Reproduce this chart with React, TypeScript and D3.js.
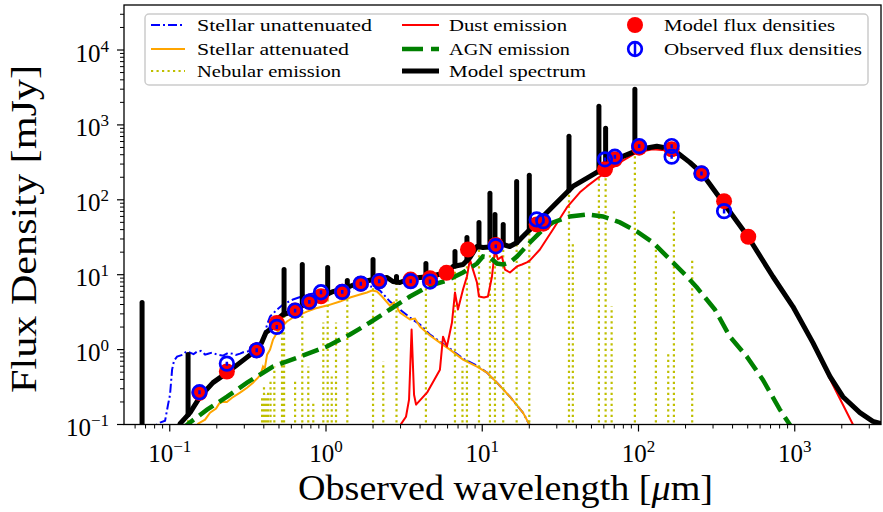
import React from 'react';
import * as d3 from 'd3';

type Pt = [number, number];

// Wavelength [µm], flux density [mJy]
const stellarUnattenuated: Pt[] = [
  [0.07, 0.08], [0.0867, 0.106], [0.0933, 0.112], [0.0975, 0.184], [0.1004, 0.25],
  [0.1035, 0.54], [0.1065, 0.713], [0.1114, 0.806], [0.1217, 0.857], [0.128, 0.95],
  [0.1349, 0.912], [0.142, 0.87], [0.1496, 0.94], [0.158, 0.96], [0.1683, 0.857],
  [0.176, 0.88], [0.1866, 0.912], [0.2, 0.86], [0.2193, 0.831], [0.235, 0.9],
  [0.2505, 0.884], [0.265, 0.85], [0.2818, 0.884], [0.295, 0.92], [0.3124, 0.94],
  [0.3412, 1.0], [0.3672, 1.06], [0.3954, 1.32], [0.4197, 2.16], [0.4385, 2.76],
  [0.4861, 3.43], [0.5307, 4.0], [0.6152, 4.66], [0.7555, 5.44], [1.015, 5.96],
  [1.425, 6.54], [1.969, 6.96], [2.215, 6.15], [2.566, 4.38], [2.974, 3.43],
  [3.446, 2.68], [3.993, 2.16], [4.627, 1.59], [5.362, 1.28], [6.213, 1.03],
  [7.529, 0.758], [9.25, 0.611], [10.72, 0.493], [12.42, 0.362], [15.04, 0.235],
  [18.21, 0.144], [19.9, 0.1025], [21.7, 0.08],
];

const stellarAttenuated: Pt[] = [
  [0.1452, 0.0852], [0.1518, 0.1025], [0.1683, 0.116], [0.1811, 0.144], [0.1979, 0.163],
  [0.207, 0.19], [0.2193, 0.202], [0.232, 0.2], [0.2505, 0.228], [0.2818, 0.266],
  [0.3124, 0.31], [0.3412, 0.362], [0.3672, 0.422], [0.38, 0.46], [0.3954, 0.593],
  [0.405, 0.55], [0.4197, 0.857], [0.4385, 1.0], [0.458, 1.36], [0.4861, 1.69],
  [0.523, 2.03], [0.5627, 2.37], [0.6152, 2.68], [0.6823, 2.94], [0.7555, 3.22],
  [0.8505, 3.53], [1.015, 3.87], [1.229, 4.38], [1.425, 4.96], [1.651, 5.44],
  [1.828, 5.78], [1.969, 6.15], [2.12, 5.96], [2.283, 5.11], [2.566, 3.87],
  [2.723, 4.25], [2.974, 3.12], [3.446, 2.52], [3.71, 2.6], [3.993, 2.03],
  [4.627, 1.54], [5.362, 1.24], [6.213, 1.0], [7.529, 0.735], [9.25, 0.593],
  [10.72, 0.493], [12.42, 0.362], [15.04, 0.235], [18.21, 0.144], [19.9, 0.1025],
  [21.7, 0.08],
];

const dustEmission: Pt[] = [
  [2.89, 0.073], [3.019, 0.101], [3.25, 0.127], [3.4, 0.215], [3.53, 1.85],
  [3.66, 0.25], [3.77, 0.184], [4.43, 0.266], [5.36, 0.54], [5.61, 1.49],
  [5.94, 1.1], [6.4, 2.3], [6.69, 5.78], [6.99, 3.43], [7.53, 6.34],
  [7.98, 9.46], [8.34, 16.0], [8.72, 11.7], [9.25, 7.87], [9.53, 5.11],
  [10.26, 4.96], [10.87, 5.11], [11.54, 9.46], [12.06, 21.7], [12.6, 16.0],
  [13.37, 17.5], [13.97, 11.7], [15.04, 10.7], [16.67, 12.9], [17.95, 13.7],
  [19.31, 14.6], [20.19, 15.5], [23.39, 21.7], [28.33, 40.2], [34.82, 79.1],
  [42.17, 126], [46.74, 151], [56.64, 205], [76.0, 316], [97.6, 430],
  [123.7, 472], [154.2, 457], [198.2, 347], [247.2, 240], [351.9, 84.2],
  [501.4, 31.4], [723.8, 9.46], [972.3, 3.64], [1305, 1.2], [1753, 0.34],
  [2353, 0.101], [2459, 0.08],
];

const agnEmission: Pt[] = [
  [0.1164, 0.0851], [0.129, 0.0993], [0.1733, 0.158], [0.2326, 0.235], [0.3124, 0.362],
  [0.458, 0.593], [0.682, 0.806], [1.015, 1.1], [1.425, 1.59], [1.91, 2.3],
  [2.566, 3.43], [3.446, 5.11], [4.627, 7.17], [5.94, 8.36], [7.53, 10.7],
  [9.25, 14.1], [10.1, 17.5], [11.2, 17.0], [12.42, 14.1], [13.6, 13.7],
  [15.04, 14.6], [16.67, 17.5], [20.19, 26.9], [24.45, 40.2], [28.33, 49.9],
  [36.4, 60.0], [46.74, 63.8], [59.2, 60.0], [76.0, 49.9], [97.6, 37.8],
  [123.7, 26.9], [158.8, 16.0], [204, 9.46], [236.6, 6.74], [308.2, 3.43],
  [384.6, 1.49], [493.6, 0.806], [624.6, 0.397], [803.2, 0.158], [930.5, 0.0993],
  [1016, 0.0753],
];

// Model spectrum continuum; emission lines are added on top from nebularLines
const modelContinuum: Pt[] = [
  [0.108, 0.0626], [0.1164, 0.1025], [0.1349, 0.144], [0.1563, 0.235], [0.189, 0.362],
  [0.233, 0.493], [0.282, 0.67], [0.341, 0.912], [0.3672, 1.0], [0.39, 1.28],
  [0.413, 1.69], [0.438, 1.85], [0.486, 2.52], [0.531, 2.94], [0.589, 3.12],
  [0.652, 3.43], [0.756, 4.25], [0.916, 4.96], [1.11, 5.96], [1.36, 6.74],
  [1.65, 7.87], [2.0, 8.63], [2.46, 9.18], [2.68, 8.11], [2.97, 7.87],
  [3.45, 8.9], [4.63, 9.46], [5.94, 10.7], [6.5, 12.9], [7.53, 13.7],
  [8.35, 17.0], [9.25, 23.8], [10.1, 23.1], [12.4, 23.8], [13.6, 25.3],
  [15.0, 23.8], [16.7, 26.9], [18.2, 32.4], [20.2, 40.2], [22.4, 49.9],
  [28.3, 81.6], [38.0, 151], [48.9, 205], [62.8, 280], [79.5, 380],
  [102, 472], [131, 518], [166, 472], [213, 316], [255, 225],
  [352, 89.5], [501, 32.4], [724, 9.46], [973, 3.76], [1306, 1.24],
  [1679, 0.44], [2032, 0.235], [2612, 0.144], [3162, 0.11], [3664, 0.101],
];

// Nebular emission lines: [observed wavelength, peak flux]
const nebularLines: Pt[] = [
  [0.0665, 4.25], [0.131, 0.857], [0.39, 0.228], [0.401, 0.34], [0.413, 0.25],
  [0.426, 0.292], [0.4415, 0.397], [0.467, 0.593], [0.523, 1.85], [0.539, 11.7],
  [0.634, 0.397], [0.705, 13.7], [0.77, 0.593], [0.829, 0.196], [0.961, 2.3],
  [1.025, 12.5], [1.088, 0.436], [1.159, 2.3], [1.369, 8.4], [2.0, 16.0],
  [2.326, 0.691], [2.826, 9.46], [4.36, 14.1], [6.69, 20.4], [7.47, 0.593],
  [7.98, 31.4], [9.53, 49.9], [11.2, 122], [12.06, 63.8], [13.62, 46.9],
  [16.6, 176], [20.0, 212], [35.9, 704], [38.0, 26.9], [55.8, 1774],
  [61.6, 901], [67.3, 3.76], [94.8, 2993], [129.2, 21.7], [155, 0.94],
  [168.5, 74.4], [220.6, 16.0],
];

const modelWave = [0.155, 0.232, 0.36, 0.484, 0.634, 0.782, 0.929, 1.27, 1.67, 2.19, 3.48, 4.63, 5.9, 8.1, 12.2, 22.3, 24.6, 61, 70.6, 101, 163, 253, 353, 504];
const modelFlux = [0.264, 0.51, 0.98, 2.27, 3.32, 4.34, 5.16, 5.9, 7.6, 8.2, 8.6, 9.0, 10.6, 21.7, 25, 46.9, 48, 255, 347, 497, 472, 225, 96, 32.1];

const obsWave = [0.155, 0.232, 0.36, 0.484, 0.634, 0.782, 0.929, 1.27, 1.67, 2.19, 3.48, 4.63, 12.2, 22.3, 24.6, 61, 70.6, 101, 163, 163, 253, 353];
const obsFlux = [0.27, 0.65, 0.98, 2.01, 3.32, 4.34, 5.83, 5.9, 7.6, 8.2, 8.2, 8.1, 24, 54.7, 51.9, 347, 377, 522, 522, 377, 225, 70.6];
const obsErr = [0.016, 0.04, 0.06, 0.12, 0.2, 0.26, 0.35, 0.35, 0.46, 0.5, 0.5, 0.5, 1.4, 3.3, 3.1, 21, 23, 31, 31, 23, 14, 5];

const xTickValues = [0.1, 1, 10, 100, 1000];
const xTickExponents = ['\u22121', '0', '1', '2', '3'];
const yTickValues = [0.1, 1, 10, 100, 1000, 10000];
const yTickExponents = ['\u22121', '0', '1', '2', '3', '4'];

const W = 883;
const H = 512;
const P = { left: 124, right: 881, top: 5, bottom: 424.5 };
const FONT = "'Liberation Serif', 'DejaVu Serif', serif";

const C = {
  blue: '#0000ff',
  orange: '#ffa500',
  neb: '#bfbf00',
  red: '#ff0000',
  green: '#008000',
  black: '#000000',
};

export default function App() {
  const x = d3.scaleLog().domain([0.05095, 3565]).range([P.left, P.right]);
  const y = d3.scaleLog().domain([0.1, 39900]).range([P.bottom, P.top]);
  const line = d3.line<Pt>().x((d) => x(d[0])).y((d) => y(d[1]));

  // log-log interpolation of the continuum under a line
  const contAt = (l: number) => {
    const c = modelContinuum;
    if (l <= c[0][0]) return 1e-3;
    for (let i = 1; i < c.length; i++) {
      if (l <= c[i][0]) {
        const t = (Math.log(l) - Math.log(c[i - 1][0])) / (Math.log(c[i][0]) - Math.log(c[i - 1][0]));
        return Math.exp(Math.log(c[i - 1][1]) + t * (Math.log(c[i][1]) - Math.log(c[i - 1][1])));
      }
    }
    return 1e-3;
  };

  const [x0, x1] = x.domain();
  const [y0, y1] = y.domain();
  const minorX: number[] = [];
  const minorY: number[] = [];
  for (let e = -2; e <= 4; e++) {
    for (let m = 2; m <= 9; m++) {
      const v = m * Math.pow(10, e);
      if (v >= x0 && v <= x1) minorX.push(v);
      if (v >= y0 && v <= y1) minorY.push(v);
    }
  }

  const spikes = nebularLines.filter(([l, f]) => f > contAt(l));

  const legendCols = [
    { hx0: 151, hx1: 185, tx: 197 },
    { hx0: 402, hx1: 439, tx: 449 },
    { mx: 635, tx: 664 },
  ];
  const rowY = [25, 49, 71];

  return (
    <svg
      width={W}
      height={H}
      style={{ position: 'absolute', left: 0, top: 0, background: '#fff' }}
      fontFamily={FONT}
    >
      <defs>
        <clipPath id="plotArea">
          <rect x={P.left} y={P.top} width={P.right - P.left} height={P.bottom - P.top} />
        </clipPath>
      </defs>

      <g clipPath="url(#plotArea)">
        <path d={line(stellarUnattenuated) || ''} fill="none" stroke={C.blue} strokeWidth={2} strokeDasharray="9,3,2,3" />
        <path d={line(stellarAttenuated) || ''} fill="none" stroke={C.orange} strokeWidth={2} />
        {nebularLines.map(([l, f], i) => (
          <line key={`n${i}`} x1={x(l)} x2={x(l)} y1={P.bottom + 20} y2={y(f)} stroke={C.neb} strokeWidth={2.2} strokeDasharray="2.2,3.3" />
        ))}
        <path d={line(dustEmission) || ''} fill="none" stroke={C.red} strokeWidth={2} strokeLinejoin="round" />
        <path d={line(agnEmission) || ''} fill="none" stroke={C.green} strokeWidth={4.5} strokeDasharray="17,7" />
        <path d={line(modelContinuum) || ''} fill="none" stroke={C.black} strokeWidth={5} strokeLinejoin="round" />
        {spikes.map(([l, f], i) => (
          <line key={`s${i}`} x1={x(l)} x2={x(l)} y1={Math.min(y(contAt(l)), P.bottom + 20)} y2={y(f)} stroke={C.black} strokeWidth={5} strokeLinecap="round" />
        ))}
        {modelWave.map((l, i) => (
          <circle key={`m${i}`} cx={x(l)} cy={y(modelFlux[i])} r={8} fill={C.red} />
        ))}
        {obsWave.map((l, i) => (
          <g key={`o${i}`}>
            <line x1={x(l)} x2={x(l)} y1={y(obsFlux[i] - obsErr[i])} y2={y(obsFlux[i] + obsErr[i])} stroke={C.blue} strokeWidth={2.5} />
            <circle cx={x(l)} cy={y(obsFlux[i])} r={6.8} fill="none" stroke={C.blue} strokeWidth={2.7} />
          </g>
        ))}
      </g>

      {/* frame */}
      <rect x={P.left} y={P.top} width={P.right - P.left} height={P.bottom - P.top} fill="none" stroke="#000" strokeWidth={1.3} />

      {/* x axis */}
      {minorX.map((v, i) => (
        <line key={`xm${i}`} x1={x(v)} x2={x(v)} y1={P.bottom} y2={P.bottom + 4} stroke="#000" strokeWidth={1} />
      ))}
      {xTickValues.map((v, i) => (
        <g key={`xt${i}`}>
          <line x1={x(v)} x2={x(v)} y1={P.bottom} y2={P.bottom + 7} stroke="#000" strokeWidth={1.2} />
          <text x={x(v)} y={462} textAnchor="middle" fontSize={25} fill="#000">
            10<tspan fontSize={17} dy={-10}>{xTickExponents[i]}</tspan>
          </text>
        </g>
      ))}

      {/* y axis */}
      {minorY.map((v, i) => (
        <line key={`ym${i}`} x1={P.left - 4} x2={P.left} y1={y(v)} y2={y(v)} stroke="#000" strokeWidth={1} />
      ))}
      {yTickValues.map((v, i) => (
        <g key={`yt${i}`}>
          <line x1={P.left - 7} x2={P.left} y1={y(v)} y2={y(v)} stroke="#000" strokeWidth={1.2} />
          <text x={109} y={y(v) + 11.5} textAnchor="end" fontSize={25} fill="#000">
            10<tspan fontSize={17} dy={-10}>{yTickExponents[i]}</tspan>
          </text>
        </g>
      ))}

      {/* axis titles */}
      <text x={505.5} y={500} textAnchor="middle" fontSize={36} textLength={415} lengthAdjust="spacingAndGlyphs">
        Observed wavelength [<tspan fontStyle="italic">μ</tspan>m]
      </text>
      <text transform="translate(36,229) rotate(-90)" textAnchor="middle" fontSize={36} textLength={328} lengthAdjust="spacingAndGlyphs">
        Flux Density [mJy]
      </text>

      {/* legend */}
      <rect x={145} y={14} width={723} height={71} rx={4} fill="#fff" fillOpacity={0.8} stroke="#cccccc" strokeWidth={1.5} />
      <line x1={legendCols[0].hx0} x2={legendCols[0].hx1} y1={rowY[0]} y2={rowY[0]} stroke={C.blue} strokeWidth={2} strokeDasharray="9,3,2,3" />
      <line x1={legendCols[0].hx0} x2={legendCols[0].hx1} y1={rowY[1]} y2={rowY[1]} stroke={C.orange} strokeWidth={2} />
      <line x1={legendCols[0].hx0} x2={legendCols[0].hx1} y1={rowY[2]} y2={rowY[2]} stroke={C.neb} strokeWidth={2.2} strokeDasharray="2.2,3.3" />
      <line x1={legendCols[1].hx0} x2={legendCols[1].hx1} y1={rowY[0]} y2={rowY[0]} stroke={C.red} strokeWidth={2} />
      <line x1={legendCols[1].hx0} x2={legendCols[1].hx1} y1={rowY[1]} y2={rowY[1]} stroke={C.green} strokeWidth={4.5} strokeDasharray="21,8" />
      <line x1={legendCols[1].hx0} x2={legendCols[1].hx1} y1={rowY[2]} y2={rowY[2]} stroke={C.black} strokeWidth={5} />
      <circle cx={legendCols[2].mx} cy={rowY[0]} r={8} fill={C.red} />
      <line x1={legendCols[2].mx} x2={legendCols[2].mx} y1={rowY[1] - 7} y2={rowY[1] + 7} stroke={C.blue} strokeWidth={2.5} />
      <circle cx={legendCols[2].mx} cy={rowY[1]} r={6.8} fill="none" stroke={C.blue} strokeWidth={2.7} />

      {[
        ['Stellar unattenuated', 0, 0, 175],
        ['Stellar attenuated', 0, 1, 152],
        ['Nebular emission', 0, 2, 144],
        ['Dust emission', 1, 0, 118],
        ['AGN emission', 1, 1, 121],
        ['Model spectrum', 1, 2, 137],
        ['Model flux densities', 2, 0, 171],
        ['Observed flux densities', 2, 1, 198],
      ].map(([t, c, r, w]) => (
        <text
          key={t as string}
          x={legendCols[c as number].tx}
          y={rowY[r as number] + 6}
          fontSize={16}
          textLength={w as number}
          lengthAdjust="spacingAndGlyphs"
          fill="#000"
        >
          {t as string}
        </text>
      ))}
    </svg>
  );
}
